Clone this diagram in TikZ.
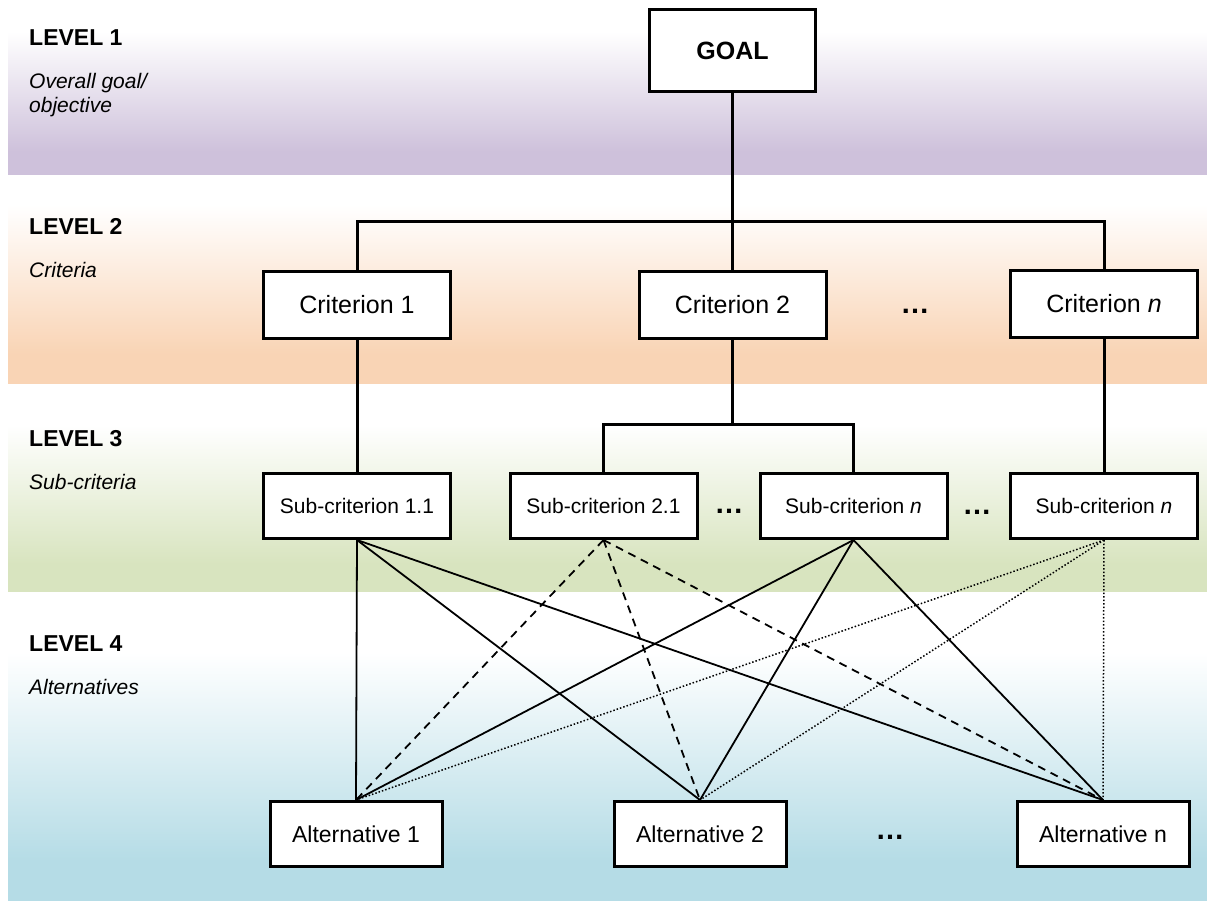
\documentclass[tikz,border=0pt]{standalone}
\usepackage{fontspec}
\setmainfont{Liberation Sans}
\definecolor{cA}{RGB}{206,193,219}
\definecolor{cB}{RGB}{249,212,181}
\definecolor{cC}{RGB}{216,228,191}
\definecolor{cD}{RGB}{181,220,230}
\pgfdeclareverticalshading{shA}{100bp}{color(0bp)=(cA); color(32bp)=(cA); color(66bp)=(white); color(100bp)=(white)}
\pgfdeclareverticalshading{shB}{100bp}{color(0bp)=(cB); color(32bp)=(cB); color(68bp)=(white); color(100bp)=(white)}
\pgfdeclareverticalshading{shC}{100bp}{color(0bp)=(cC); color(32bp)=(cC); color(68bp)=(white); color(100bp)=(white)}
\pgfdeclareverticalshading{shD}{100bp}{color(0bp)=(cD); color(32bp)=(cD); color(68bp)=(white); color(100bp)=(white)}
\tikzset{
  box/.style={draw, line width=3pt, fill=white, inner sep=0pt, align=center},
  critbox/.style={box, minimum width=187pt, minimum height=66pt, font=\fontsize{25}{30}\selectfont},
  subbox/.style={box, minimum width=187pt, minimum height=65pt, font=\fontsize{21}{25}\selectfont},
  altbox/.style={box, minimum width=172pt, minimum height=65pt, font=\fontsize{23}{28}\selectfont},
  goalbox/.style={box, minimum width=166pt, minimum height=82pt, font=\fontsize{25}{30}\selectfont\bfseries},
  lvl/.style={anchor=base west, inner sep=0pt, font=\fontsize{23}{28}\selectfont\bfseries},
  lvlsub/.style={anchor=base west, inner sep=0pt, font=\fontsize{21}{25}\selectfont\itshape},
  dots/.style={anchor=base, inner sep=0pt, font=\fontsize{29}{32}\selectfont\bfseries},
  tree/.style={line width=3pt},
  solidc/.style={line width=1.8pt},
  dashc/.style={line width=1.8pt, dash pattern=on 8pt off 6pt},
  dotc/.style={line width=1.5pt, dash pattern=on 1.5pt off 2pt}
}
\begin{document}
\begin{tikzpicture}[x=1pt,y=-1pt]
\useasboundingbox (0,0) rectangle (1207,901);
\fill[white] (0,0) rectangle (1207,901);
% bands
\shade[shading=shA] (8,0) rectangle (1207,176);
\shade[shading=shB] (8,176) rectangle (1207,383);
\shade[shading=shC] (8,398) rectangle (1207,591);
\shade[shading=shD] (8,612) rectangle (1207,901);
% level labels
\node[lvl] (l1) at (29,46) {LEVEL 1};
\node[lvlsub] (l1a) at (29,89) {Overall goal/};
\node[lvlsub] (l1b) at (29,113) {objective};
\node[lvl] (l2) at (29,235) {LEVEL 2};
\node[lvlsub] (l2a) at (29,278) {Criteria};
\node[lvl] (l3) at (29,446) {LEVEL 3};
\node[lvlsub] (l3a) at (29,489) {Sub-criteria};
\node[lvl] (l4) at (29,651) {LEVEL 4};
\node[lvlsub] (l4a) at (29,694) {Alternatives};
% nodes
\node[goalbox] (goal) at (732.5,50.5) {GOAL};
\node[critbox] (c1) at (357,305) {Criterion 1};
\node[critbox] (c2) at (732.5,305) {Criterion 2};
\node[critbox] (cn) at (1104,304) {Criterion \textit{n}};
\node[subbox] (s11) at (357,506) {Sub-criterion 1.1};
\node[subbox] (s21) at (603.5,506) {Sub-criterion 2.1};
\node[subbox] (snm) at (853.5,506) {Sub-criterion \textit{n}};
\node[subbox] (snr) at (1104,506) {Sub-criterion \textit{n}};
\node[altbox] (a1) at (356,834) {Alternative 1};
\node[altbox] (a2) at (700,834) {Alternative 2};
\node[altbox] (an) at (1103,834) {Alternative n};
% dots
\node[dots] (d1) at (915,313) {\dots};
\node[dots] (d2) at (729,513) {\dots};
\node[dots] (d3) at (977,514) {\dots};
\node[dots] (d4) at (890,839) {\dots};
% tree connectors
\coordinate (t2) at (732.5,222);
\coordinate (t3) at (732.5,424);
\draw[tree] (goal.south) -- (t2);
\draw[tree] (c1.north) |- (t2) -| (cn.north);
\draw[tree] (t2) -- (c2.north);
\draw[tree] (c1.south) -- (s11.north);
\draw[tree] (cn.south) -- (snr.north);
\draw[tree] (c2.south) -- (t3);
\draw[tree] (s21.north) |- (t3) -| (snm.north);
% level 4 connectors
\foreach \a in {a1,a2,an}{
  \draw[solidc] (s11.south) -- (\a.north);
  \draw[dashc] (s21.south) -- (\a.north);
  \draw[solidc] (snm.south) -- (\a.north);
  \draw[dotc] (snr.south) -- (\a.north);
}
\end{tikzpicture}
\end{document}
